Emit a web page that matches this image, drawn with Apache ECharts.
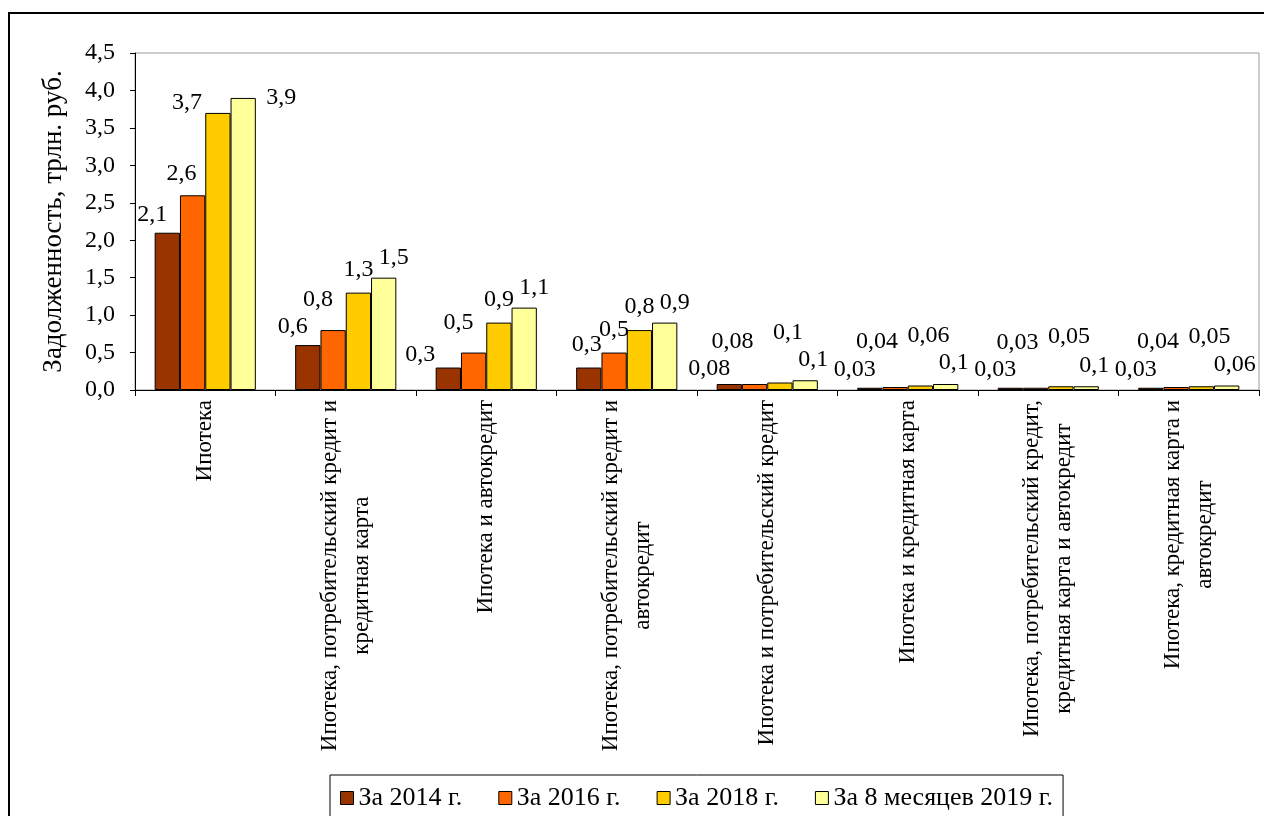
<!DOCTYPE html>
<html>
<head>
<meta charset="utf-8">
<script src="https://cdn.jsdelivr.net/npm/echarts@6/dist/echarts.min.js"></script>
<style>
  html, body { margin: 0; padding: 0; background: #fff; }
  #chart { width: 1264px; height: 816px; }
</style>
</head>
<body>
<div id="chart"></div>
<script>
const categories = [
  "Ипотека",
  "Ипотека, потребительский кредит и\nкредитная карта",
  "Ипотека и автокредит",
  "Ипотека, потребительский кредит и\nавтокредит",
  "Ипотека и потребительский кредит",
  "Ипотека и кредитная карта",
  "Ипотека, потребительский кредит,\nкредитная карта и автокредит",
  "Ипотека, кредитная карта и\nавтокредит"
];
const seriesNames = ["За 2014 г.", "За 2016 г.", "За 2018 г.", "За 8 месяцев 2019 г."];
const values2014 = [2.1, 0.6, 0.3, 0.3, 0.08, 0.03, 0.03, 0.03];
const values2016 = [2.6, 0.8, 0.5, 0.5, 0.08, 0.04, 0.03, 0.04];
const values2018 = [3.7, 1.3, 0.9, 0.8, 0.1, 0.06, 0.05, 0.05];
const values2019 = [3.9, 1.5, 1.1, 0.9, 0.13, 0.08, 0.05, 0.06];
// подписи 2019 г. так, как они напечатаны на исходной диаграмме
const labels2019 = ["3,9", "1,5", "1,1", "0,9", "0,1", "0,1", "0,1", "0,06"];
const yTicks = [0, 0.5, 1, 1.5, 2, 2.5, 3, 3.5, 4, 4.5];

const FONT = "'Liberation Serif', 'Times New Roman', serif";
const colors = ["#993300", "#FF6600", "#FFCC00", "#FFFF99"];
const fmt = (v) => String(v).replace(".", ",");

// подписи в Excel были раздвинуты вручную
const baseShift = [[-15, -6], [-15, -18], [0, -11], [10, -8]];
const smallShift = [[-15, -6], [-18, -33], [8, -38], [8, -9]];
const manualShift = {
  "0:2": [-28, -1], "0:3": [-2, -11], "0:4": [-20, -3],
  "1:0": [-11, -10], "1:3": [0, -11], "1:4": [-22, -30],
  "2:0": [-31, 2],
  "3:0": [38, 12]
};

function makeSeries(idx, values, shown) {
  return {
    name: seriesNames[idx],
    type: "bar",
    barGap: "0%",
    barCategoryGap: "28%",
    itemStyle: { color: colors[idx], borderColor: "#000", borderWidth: 1 },
    label: {
      show: true,
      position: "top",
      distance: 0,
      color: "#000",
      fontFamily: FONT,
      fontSize: 24,
      formatter: (p) => (shown ? shown[p.dataIndex] : fmt(p.value))
    },
    labelLayout: (p) => {
      const i = p.dataIndex;
      const s = manualShift[idx + ":" + i] || (values[i] < 0.2 ? smallShift[idx] : baseShift[idx]);
      return { dx: s[0], dy: s[1], moveOverlap: false, hideOverlap: false };
    },
    data: values
  };
}

const chart = echarts.init(document.getElementById("chart"));
chart.setOption({
  animation: false,
  backgroundColor: "#fff",
  graphic: [
    {
      type: "rect",
      z: 0,
      shape: { x: 9, y: 13, width: 1400, height: 1000 },
      style: { fill: "none", stroke: "#000", lineWidth: 2 }
    }
  ],
  grid: {
    left: 135,
    right: 5,
    top: 53,
    bottom: 426,
    show: true,
    borderColor: "#999",
    borderWidth: 1
  },
  legend: {
    data: seriesNames,
    left: 330,
    top: 775,
    itemWidth: 13,
    itemHeight: 13,
    itemGap: 36,
    padding: [10, 10, 16, 10],
    borderColor: "#000",
    borderWidth: 1,
    icon: "rect",
    itemStyle: { borderColor: "#000", borderWidth: 1 },
    textStyle: { fontFamily: FONT, fontSize: 26, color: "#000" }
  },
  xAxis: {
    type: "category",
    data: categories,
    axisLine: { lineStyle: { color: "#000", width: 1 } },
    axisTick: { show: true, length: 6, lineStyle: { color: "#000" } },
    axisLabel: {
      interval: 0,
      rotate: 90,
      margin: 10,
      color: "#000",
      fontFamily: FONT,
      fontSize: 23,
      formatter: (v) => v.split("\n").map((l) => "{c|" + l + "}").join("\n"),
      rich: {
        c: { align: "center", fontFamily: FONT, fontSize: 23, lineHeight: 32, color: "#000" }
      }
    }
  },
  yAxis: {
    type: "value",
    min: yTicks[0],
    max: yTicks[yTicks.length - 1],
    interval: 0.5,
    name: "Задолженность, трлн. руб.",
    nameLocation: "middle",
    nameGap: 68,
    nameTextStyle: { fontFamily: FONT, fontSize: 27, color: "#000" },
    axisLine: { show: true, lineStyle: { color: "#000", width: 1 } },
    axisTick: { show: true, length: 5, lineStyle: { color: "#000" } },
    splitLine: { show: false },
    axisLabel: {
      margin: 20,
      color: "#000",
      fontFamily: FONT,
      fontSize: 24,
      formatter: (v) => v.toFixed(1).replace(".", ",")
    }
  },
  series: [
    makeSeries(0, values2014),
    makeSeries(1, values2016),
    makeSeries(2, values2018),
    makeSeries(3, values2019, labels2019)
  ]
});
</script>
</body>
</html>
